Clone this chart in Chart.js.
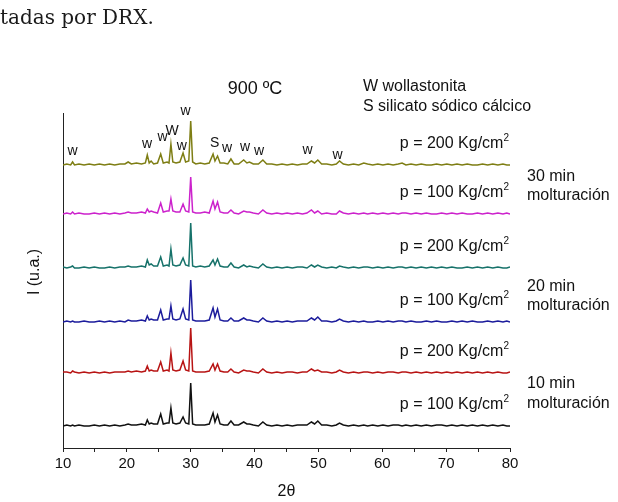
<!DOCTYPE html>
<html>
<head>
<meta charset="utf-8">
<script src="https://cdn.jsdelivr.net/npm/chart.js@4.4.0/dist/chart.umd.min.js"></script>
<style>
  html, body { margin: 0; padding: 0; background: #fff; }
  #wrap { position: relative; width: 618px; height: 502px; overflow: hidden; }
  #caption { position: absolute; left: 0; top: 5px; font: 20px "DejaVu Serif", serif; color: #1a1a1a; }
  canvas { position: absolute; left: 0; top: 0; }
</style>
</head>
<body>
<div id="wrap">
  <canvas id="xrd" width="618" height="502"></canvas>
  <div id="caption">tadas por DRX.</div>
</div>
<script>
// 2theta positions shared by all patterns
const twoTheta = [
  10, 10.6, 11.2, 11.5, 11.8, 12.5, 13.3, 14.1, 14.9, 15.7,
  16.5, 17.3, 18.1, 18.9, 19.7, 20.2, 20.7, 21.5, 22.3, 22.9,
  23.2, 23.5, 23.8, 24.2, 24.8, 25.3, 25.7, 26.3, 26.6, 26.9,
  27.2, 27.7, 28.3, 28.8, 29.2, 29.7, 30.0, 30.3, 30.8, 31.5,
  32.2, 32.9, 33.5, 33.8, 34.2, 34.6, 35.2, 35.8, 36.3, 36.8,
  37.5, 38.3, 38.8, 39.2, 39.8, 40.6, 41.3, 41.9, 42.7, 43.5,
  44.3, 45.1, 45.9, 46.7, 47.5, 48.2, 48.9, 49.4, 49.9, 50.5,
  51.3, 52.1, 52.8, 53.3, 53.9, 54.7, 55.5, 56.3, 57.1, 57.7,
  58.5, 59.3, 60.1, 60.9, 61.7, 62.5, 63.1, 63.7, 64.5, 65.3,
  66.1, 66.9, 67.7, 68.5, 69.3, 70.1, 70.9, 71.7, 72.5, 73.3,
  74.1, 74.9, 75.7, 76.5, 77.3, 78.1, 78.9, 79.5, 80
];

// intensities (u.a.)
const m30p200 = [
  0, 1, 0, 3, 0, 1, 0, 1, 0, 1,
  0, 1, 0, 1, 1, 3, 1, 2, 1, 2,
  10, 2, 4, 1, 2, 11, 2, 3, 2, 21,
  3, 2, 3, 12, 3, 4, 44, 3, 1, 2,
  1, 2, 11, 4, 9, 2, 2, 1, 6, 1,
  1, 5, 2, 3, 1, 1, 5, 1, 1, 0,
  1, 0, 1, 0, 1, 1, 4, 2, 5, 1,
  1, 0, 1, 4, 1, 0, 1, 0, 2, 1,
  0, 1, 0, 1, 0, 1, 2, 0, 1, 0,
  1, 0, 0, 1, 0, 1, 0, 1, 0, 1,
  0, 0, 1, 0, 1, 0, 1, 0, 0
];
const m30p100 = [
  0, 1, 0, 2, 0, 1, 0, 0, 1, 0,
  1, 0, 1, 0, 1, 2, 1, 1, 2, 1,
  5, 2, 3, 2, 1, 11, 2, 3, 3, 15,
  3, 2, 2, 10, 3, 2, 37, 2, 1, 1,
  2, 1, 13, 5, 12, 2, 1, 1, 4, 1,
  0, 3, 2, 2, 1, 0, 4, 1, 0, 1,
  0, 1, 0, 1, 0, 1, 4, 1, 3, 0,
  1, 0, 0, 3, 1, 0, 1, 0, 1, 0,
  1, 0, 1, 0, 1, 0, 1, 1, 0, 1,
  0, 1, 0, 0, 1, 0, 1, 0, 1, 0,
  0, 1, 0, 1, 0, 1, 0, 1, 0
];
const m20p200 = [
  1, 0, 1, 2, 0, 0, 1, 0, 1, 0,
  0, 1, 0, 1, 1, 2, 1, 1, 2, 1,
  8, 3, 4, 2, 2, 11, 2, 3, 2, 19,
  3, 2, 3, 10, 3, 2, 45, 2, 1, 2,
  1, 2, 8, 3, 9, 2, 1, 1, 5, 1,
  0, 3, 1, 2, 1, 0, 4, 1, 0, 1,
  0, 1, 0, 1, 1, 0, 3, 1, 3, 1,
  0, 1, 0, 2, 1, 0, 1, 0, 1, 1,
  0, 1, 0, 1, 0, 1, 1, 0, 1, 0,
  1, 0, 1, 0, 1, 0, 1, 0, 0, 1,
  0, 1, 0, 1, 0, 1, 0, 0, 1
];
const m20p100 = [
  0, 1, 0, 1, 0, 0, 1, 0, 0, 1,
  0, 1, 0, 1, 0, 2, 1, 1, 2, 1,
  6, 2, 3, 2, 2, 12, 2, 3, 3, 16,
  3, 2, 3, 13, 3, 2, 42, 2, 1, 1,
  1, 2, 14, 5, 13, 2, 1, 1, 4, 1,
  1, 4, 2, 2, 1, 0, 4, 1, 0, 1,
  0, 1, 0, 1, 1, 1, 4, 2, 5, 1,
  1, 0, 1, 3, 1, 0, 1, 0, 1, 0,
  0, 1, 0, 1, 0, 1, 1, 0, 1, 0,
  0, 1, 0, 1, 0, 0, 1, 0, 1, 0,
  1, 0, 0, 1, 0, 1, 0, 1, 0
];
const m10p200 = [
  1, 1, 0, 2, 1, 0, 1, 0, 1, 0,
  1, 0, 1, 1, 1, 2, 1, 2, 1, 2,
  7, 2, 3, 2, 2, 11, 2, 3, 2, 20,
  3, 2, 3, 12, 3, 2, 45, 2, 1, 1,
  1, 2, 9, 3, 9, 2, 1, 1, 4, 1,
  0, 3, 2, 2, 1, 0, 4, 1, 0, 1,
  0, 1, 1, 0, 1, 1, 4, 2, 3, 1,
  1, 0, 1, 3, 1, 0, 1, 0, 1, 1,
  0, 1, 0, 1, 1, 0, 1, 1, 0, 1,
  0, 1, 0, 1, 0, 1, 0, 1, 0, 1,
  0, 1, 0, 1, 0, 1, 0, 0, 1
];
const m10p100 = [
  0, 1, 0, 1, 0, 1, 0, 0, 1, 0,
  1, 0, 1, 0, 1, 2, 1, 1, 2, 1,
  6, 2, 3, 2, 2, 12, 2, 3, 3, 18,
  3, 2, 3, 9, 3, 2, 43, 2, 1, 1,
  1, 2, 13, 4, 11, 2, 1, 1, 5, 1,
  1, 4, 2, 2, 1, 0, 4, 1, 0, 1,
  0, 1, 0, 1, 1, 1, 4, 2, 5, 1,
  1, 0, 1, 3, 1, 0, 1, 0, 1, 0,
  1, 0, 1, 0, 1, 1, 0, 1, 0, 1,
  0, 1, 0, 1, 1, 0, 1, 0, 1, 0,
  1, 0, 1, 0, 1, 0, 1, 0, 0
];

const pressureLabels = ['p = 200 Kg/cm', 'p = 100 Kg/cm', 'p = 200 Kg/cm', 'p = 100 Kg/cm', 'p = 200 Kg/cm', 'p = 100 Kg/cm'];
const xTicks = [10, 20, 30, 40, 50, 60, 70, 80];
// phase labels over the top pattern: text, 2theta, height
const peakLabels = [
  ['w', 11.5, 297], ['w', 23.15, 304], ['w', 25.6, 311], ['W', 27.1, 317],
  ['w', 28.6, 302], ['w', 29.2, 337], ['S', 33.75, 305], ['w', 35.7, 300],
  ['w', 38.5, 301], ['w', 40.7, 297], ['w', 48.3, 298], ['w', 53.0, 293]
];

// stacking offsets and colours, top to bottom
const offsets = [283, 234, 180, 126, 75, 22];
const colors = ['#7e7e14', '#cc22cc', '#16726a', '#1c1c9c', '#b81414', '#111111'];
const series = [m30p200, m30p100, m20p200, m20p100, m10p200, m10p100];

const FONT = '"Liberation Sans", Arial, sans-serif';

const textPlugin = {
  id: 'xrdText',
  afterDraw(chart) {
    const ctx = chart.ctx;
    const x = chart.scales.x, y = chart.scales.y;
    ctx.save();
    ctx.fillStyle = '#111';
    ctx.textBaseline = 'middle';

    // peak markers
    ctx.font = '14px ' + FONT;
    ctx.textAlign = 'center';
    peakLabels.forEach(p => {
      ctx.fillText(p[0], x.getPixelForValue(p[1]), y.getPixelForValue(p[2]));
    });

    // pressure labels with superscript 2
    const right = chart.chartArea.right - 1;
    pressureLabels.forEach((t, i) => {
      const yy = y.getPixelForValue(offsets[i] + 21);
      ctx.font = '10px ' + FONT;
      const w2 = ctx.measureText('2').width;
      ctx.textAlign = 'left';
      ctx.fillText('2', right - w2, yy - 6);
      ctx.font = '16px ' + FONT;
      ctx.textAlign = 'right';
      ctx.fillText(t, right - w2, yy);
    });

    // milling time groups
    ctx.font = '16px ' + FONT;
    ctx.textAlign = 'left';
    const gx = chart.chartArea.right + 17;
    [['30 min', 271, 252], ['20 min', 161, 142], ['10 min', 64, 44]].forEach(g => {
      ctx.fillText(g[0], gx, y.getPixelForValue(g[1]));
      ctx.fillText('molturación', gx, y.getPixelForValue(g[2]));
    });

    // title and phase legend
    ctx.font = '18px ' + FONT;
    ctx.textAlign = 'center';
    ctx.fillText('900 ºC', 255, 89);
    ctx.font = '16px ' + FONT;
    ctx.textAlign = 'left';
    ctx.fillText('W wollastonita', 363, 87);
    ctx.fillText('S silicato sódico cálcico', 363, 107);

    // axis titles
    ctx.textAlign = 'center';
    ctx.fillText('2θ', (chart.chartArea.left + chart.chartArea.right) / 2, 492);
    ctx.translate(35, 272);
    ctx.rotate(-Math.PI / 2);
    ctx.fillText('I (u.a.)', 0, 0);
    ctx.restore();
  }
};

const ctx = document.getElementById('xrd');
const xrd = new Chart(ctx, {
  type: 'line',
  data: {
    datasets: series.map((vals, i) => ({
      data: twoTheta.map((t, j) => ({ x: t, y: vals[j] + offsets[i] })),
      borderColor: colors[i],
      borderWidth: 1.5,
      pointRadius: 0,
      fill: false,
      tension: 0
    }))
  },
  options: {
    responsive: false,
    devicePixelRatio: 1,
    animation: false,
    layout: { padding: { left: 63, right: 108, top: 113, bottom: 0 } },
    plugins: { legend: { display: false }, tooltip: { enabled: false } },
    scales: {
      x: {
        type: 'linear',
        min: 10,
        max: 80,
        afterFit(scale) { scale.height = 54; },
        afterBuildTicks(scale) {
          scale.ticks = [];
          for (let v = 10; v <= 80; v += 5) scale.ticks.push({ value: v });
        },
        ticks: {
          autoSkip: false,
          maxRotation: 0,
          padding: 3,
          color: '#111',
          font: { family: FONT, size: 15 },
          callback: v => xTicks.includes(v) ? String(v) : ''
        },
        grid: { drawOnChartArea: false, drawTicks: true, tickLength: 4, color: '#222' },
        border: { display: true, color: '#222', width: 1 }
      },
      y: {
        min: 0,
        max: 335,
        afterFit(scale) { scale.width = 0; },
        ticks: { display: false },
        grid: { drawOnChartArea: false, drawTicks: false, color: '#222' },
        border: { display: true, color: '#222', width: 1 }
      }
    }
  },
  plugins: [textPlugin]
});
</script>
</body>
</html>
